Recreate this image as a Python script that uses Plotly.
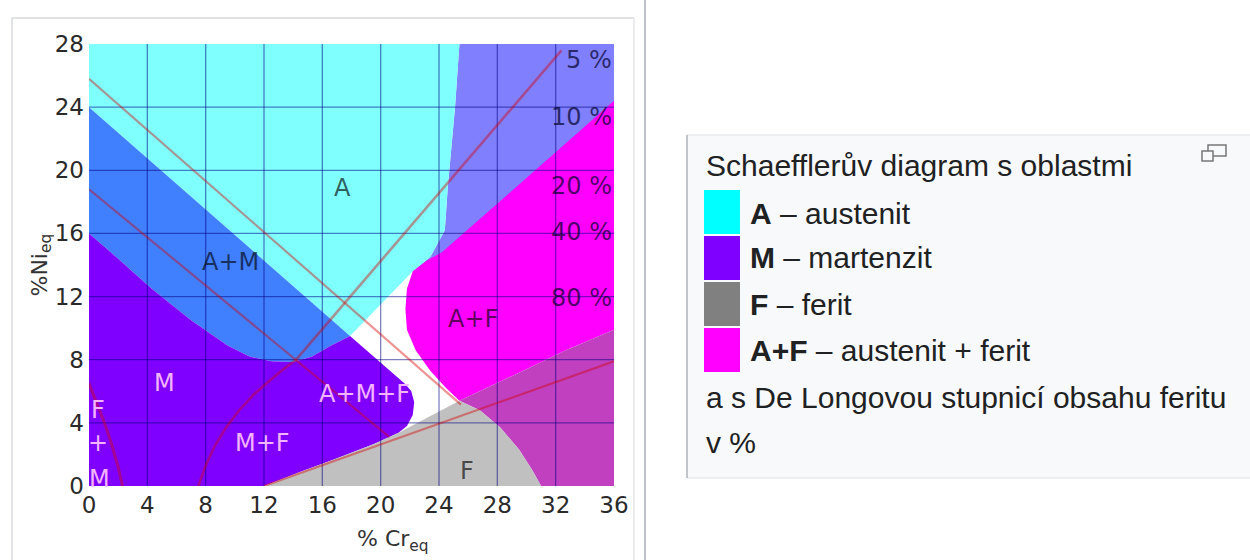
import plotly.graph_objects as go

# ---------------- axes ----------------
cr_ticks = [0, 4, 8, 12, 16, 20, 24, 28, 32, 36]
ni_ticks = [0, 4, 8, 12, 16, 20, 24, 28]

# ---------------- phase fields (Cr_eq, Ni_eq) ----------------
# austenite overlapping the A+F field (upper right)
af_upper_x = [25.4, 36, 36, 22.2, 23.4, 24.4, 24.6, 25.1]
af_upper_y = [28, 28, 20, 13.6, 14.5, 16.2, 18.9, 24]

# A - austenite
a_x = [0, 25.4, 25.1, 24.6, 24.4, 23.4, 22.2, 17.9, 0]
a_y = [28, 28, 24, 18.9, 16.2, 14.5, 13.6, 9.5, 24]

# A+M
am_x = [0, 17.9, 16.6, 15.3, 14.0, 12.5, 11.0, 9.5, 7.0, 4.3, 2.0, 0]
am_y = [24, 9.5, 8.9, 8.2, 7.85, 7.9, 8.2, 8.9, 10.5, 12.5, 14.4, 16]

# M, M+F, A+M+F
m_x = [0, 12, 14.5, 17, 19.5, 21.2, 21.8, 22.2, 22.3, 22.1, 21.7, 17.9,
       16.6, 15.3, 14.0, 12.5, 11.0, 9.5, 7.0, 4.3, 2.0, 0]
m_y = [0, 0, 0.9, 1.75, 2.65, 3.35, 3.8, 4.5, 5.3, 6.0, 6.45, 9.5,
       8.9, 8.2, 7.85, 7.9, 8.2, 8.9, 10.5, 12.5, 14.4, 16]

# A+F
af_x = [22.2, 23.2, 24.2, 30, 36, 36, 32.7, 30, 27.5, 25.4, 24.5, 23.4,
        22.4, 21.8, 21.7, 21.8]
af_y = [13.6, 14.3, 14.8, 19.5, 24.4, 9.9, 8.6, 7.4, 6.3, 5.4, 6.2, 7.3,
        8.6, 9.9, 11.2, 12.5]

# A+F overlapping F (lower right)
aff_x = [25.4, 27.5, 30, 32.7, 36, 36, 31, 30.4, 29.5, 28.2, 26.8]
aff_y = [5.4, 6.3, 7.4, 8.6, 9.9, 0, 0, 1.0, 2.3, 3.7, 4.8]

# F - ferrite
f_x = [12, 14.5, 17, 19.5, 21.2, 23.4, 25.4, 26.8, 28.2, 29.5, 30.4, 31]
f_y = [0, 0.9, 1.75, 2.65, 3.35, 4.4, 5.4, 4.8, 3.7, 2.3, 1.0, 0]

# ---------------- boundary lines ----------------
line1_x = [0, 25.5]
line1_y = [25.8, 5.15]
line2_x = [0, 20.6]
line2_y = [18.8, 3.1]
ferrite5_x = [7.5, 8.0, 8.6, 9.4, 10.3, 11.3, 12.3, 13.2, 14.2, 32.4]
ferrite5_y = [0, 1.3, 2.5, 3.7, 4.8, 5.8, 6.6, 7.3, 8.0, 27.6]
fm_x = [0, 0.5, 1.1, 1.6, 2.0, 2.3]
fm_y = [6.5, 5.3, 3.9, 2.5, 1.2, 0]
line3_x = [12, 36]
line3_y = [0, 7.9]

# ---------------- labels ----------------
pct_labels = ["5 %", "10 %", "20 %", "40 %", "80 %"]
pct_y = [27.0, 23.4, 19.0, 16.1, 11.9]

dark_labels = ["A", "A+M", "A+F", "F"]
dark_x = [17.4, 9.7, 26.3, 25.9]
dark_y = [18.9, 14.2, 10.6, 0.95]

pink_labels = ["M", "M+F", "A+M+F", "F", "+", "M"]
pink_x = [5.2, 11.9, 18.9, 0.6, 0.6, 0.75]
pink_y = [6.5, 2.7, 5.8, 4.8, 2.7, 0.45]

legend_colors = ["#00FFFF", "#8000FF", "#808080", "#FF00FF"]
legend_texts = ["<b>A</b> – austenit", "<b>M</b> – martenzit",
                "<b>F</b> – ferit", "<b>A+F</b> – austenit + ferit"]

W, H = 1250, 560

fig = go.Figure()

regions = [
    (af_upper_x, af_upper_y, "#8080FF"),
    (a_x, a_y, "#80FFFF"),
    (am_x, am_y, "#4080FF"),
    (m_x, m_y, "#8000FF"),
    (af_x, af_y, "#FF00FF"),
    (aff_x, aff_y, "#C040C0"),
    (f_x, f_y, "#C0C0C0"),
]
for xs, ys, col in regions:
    fig.add_trace(go.Scatter(x=xs, y=ys, fill="toself", fillcolor=col,
                             mode="lines", line=dict(width=0, color=col),
                             hoverinfo="skip", showlegend=False))

# grid drawn over the fields
gx, gy = [], []
for t in cr_ticks[1:-1]:
    gx += [t, t, None]
    gy += [ni_ticks[0], ni_ticks[-1], None]
for t in ni_ticks[1:-1]:
    gx += [cr_ticks[0], cr_ticks[-1], None]
    gy += [t, t, None]
fig.add_trace(go.Scatter(x=gx, y=gy, mode="lines",
                         line=dict(color="rgba(0,0,130,0.5)", width=1.3),
                         hoverinfo="skip", showlegend=False))

red = "rgba(215,0,0,0.42)"
for xs, ys, w in [(line1_x, line1_y, 2.2), (line2_x, line2_y, 2.2),
                  (ferrite5_x, ferrite5_y, 2.6), (fm_x, fm_y, 3),
                  (line3_x, line3_y, 2.2)]:
    fig.add_trace(go.Scatter(x=xs, y=ys, mode="lines",
                             line=dict(color=red, width=w),
                             hoverinfo="skip", showlegend=False))

ann = []
font_plot = "DejaVu Sans"
lab_size = 24
for t, y in zip(pct_labels, pct_y):
    ann.append(dict(x=36, y=y, xref="x", yref="y", text=t, showarrow=False,
                    xanchor="right", yanchor="middle",
                    font=dict(family=font_plot, size=lab_size, color="rgba(0,0,40,0.7)")))
for t, x, y in zip(dark_labels, dark_x, dark_y):
    ann.append(dict(x=x, y=y, xref="x", yref="y", text=t, showarrow=False,
                    font=dict(family=font_plot, size=lab_size, color="rgba(0,0,0,0.65)")))
for t, x, y in zip(pink_labels, pink_x, pink_y):
    ann.append(dict(x=x, y=y, xref="x", yref="y", text=t, showarrow=False,
                    font=dict(family=font_plot, size=lab_size, color="#F4B4FF")))

# axis titles
ann.append(dict(x=355 / W, y=1 - 524 / H, xref="paper", yref="paper",
                text="% Cr<sub>eq</sub>", showarrow=False, yanchor="top",
                font=dict(family=font_plot, size=22, color="#333")))
ann.append(dict(x=24 / W, y=1 - 265 / H, xref="paper", yref="paper",
                text="%Ni<sub>eq</sub>", showarrow=False, textangle=-90,
                font=dict(family=font_plot, size=22, color="#333")))

# caption box text
font_cap = "Liberation Sans"
cap_size = 30
ann.append(dict(x=704 / W, y=1 - 165 / H, xref="paper", yref="paper",
                text="Schaefflerův diagram s oblastmi", showarrow=False,
                xanchor="left", yanchor="middle",
                font=dict(family=font_cap, size=cap_size, color="#202122")))
row_y = [213, 258, 304, 350]
for t, y in zip(legend_texts, row_y):
    ann.append(dict(x=748 / W, y=1 - y / H, xref="paper", yref="paper",
                    text=t, showarrow=False, xanchor="left", yanchor="middle",
                    font=dict(family=font_cap, size=cap_size, color="#202122")))
ann.append(dict(x=704 / W, y=1 - 397 / H, xref="paper", yref="paper",
                text="a s De Longovou stupnicí obsahu feritu", showarrow=False,
                xanchor="left", yanchor="middle",
                font=dict(family=font_cap, size=cap_size, color="#202122")))
ann.append(dict(x=704 / W, y=1 - 442 / H, xref="paper", yref="paper",
                text="v %", showarrow=False, xanchor="left", yanchor="middle",
                font=dict(family=font_cap, size=cap_size, color="#202122")))

def px_rect(x0, y0, x1, y1, **kw):
    return dict(type="rect", xref="paper", yref="paper",
                x0=x0 / W, x1=x1 / W, y0=1 - y1 / H, y1=1 - y0 / H, **kw)

def px_line(x0, y0, x1, y1, color, width=1):
    return dict(type="line", xref="paper", yref="paper",
                x0=x0 / W, x1=x1 / W, y0=1 - y0 / H, y1=1 - y1 / H,
                line=dict(color=color, width=width))

shapes = [
    # thumbnail frame
    px_line(12, 18, 634, 18, "#d6d8dc", 1.5),
    px_line(12, 18, 12, 560, "#d6d8dc", 1.5),
    px_line(634, 18, 634, 560, "#e2e4e7", 1.5),
    px_line(645, 0, 645, 560, "#a7abb0", 1.5),
    # caption box
    px_rect(687, 135, 1262, 478, fillcolor="#f8f9fa",
            line=dict(color="#dfe1e4", width=1.2), layer="below"),
    px_line(687, 135, 687, 478, "#b5b9be", 1.5),
    # enlarge icon
    px_rect(1208, 145, 1226, 156, fillcolor="rgba(0,0,0,0)",
            line=dict(color="#777", width=1.5)),
    px_rect(1202, 151, 1213, 161, fillcolor="#f8f9fa",
            line=dict(color="#777", width=1.5)),
]
sw_top = [190, 236, 282, 328]
for c, y in zip(legend_colors, sw_top):
    shapes.append(px_rect(704, y, 740, y + 44, fillcolor=c, line=dict(width=0)))

axis_font = dict(family=font_plot, size=23, color="#2a2a2a")
fig.update_layout(
    width=W, height=H,
    margin=dict(l=0, r=0, t=0, b=0, autoexpand=False),
    paper_bgcolor="white", plot_bgcolor="white",
    showlegend=False,
    annotations=ann, shapes=shapes,
    xaxis=dict(range=[0, 36], domain=[89 / W, 614 / W], tickvals=cr_ticks,
               showgrid=False, zeroline=False, showline=False, ticks="",
               tickfont=axis_font, automargin=False,
               ticklabelstandoff=3, fixedrange=True),
    yaxis=dict(range=[0, 28], domain=[1 - 486 / H, 1 - 44 / H], tickvals=ni_ticks,
               showgrid=False, zeroline=False, showline=False, ticks="",
               tickfont=axis_font, automargin=False,
               ticklabelstandoff=4, fixedrange=True),
)

fig.write_html("out.html")
